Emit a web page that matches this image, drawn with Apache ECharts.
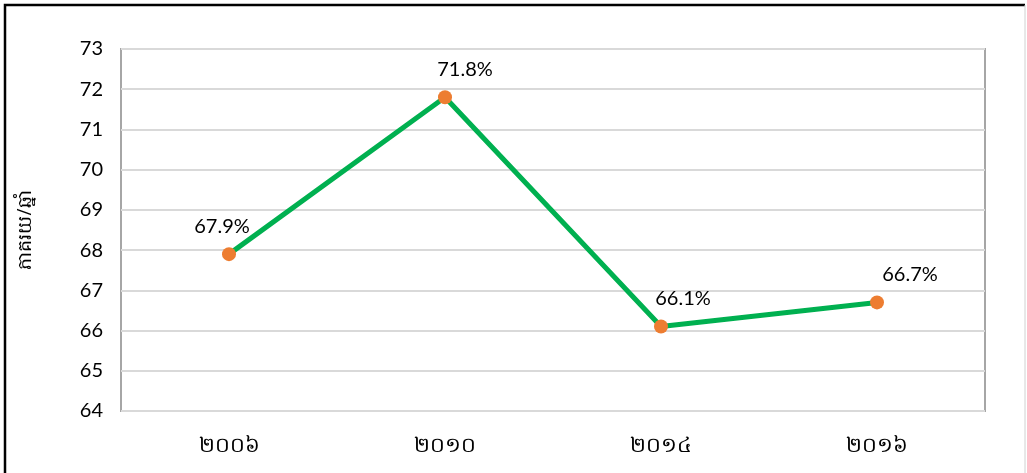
<!DOCTYPE html>
<html>
<head>
<meta charset="utf-8">
<script src="https://cdn.jsdelivr.net/npm/echarts@6/dist/echarts.min.js"></script>
<style>
  html, body { margin: 0; padding: 0; background: #fff; }
  #chart { width: 1027px; height: 473px; }
</style>
</head>
<body>
<div id="chart"></div>
<script>
// ឆ្នាំ (years, Khmer numerals)
var years = ["២០០៦", "២០១០", "២០១៤", "២០១៦"];
// percent values
var values = [67.9, 71.8, 66.1, 66.7];
var labelShift = [[-7, 0], [20, 0], [22, 0], [33, 0]];

var chart = echarts.init(document.getElementById("chart"));
var font = "Lato, 'Open Sans', 'Noto Sans', sans-serif";

var option = {
  backgroundColor: "#fff",
  animation: false,
  graphic: [
    {
      type: "polyline",
      shape: { points: [[5, 480], [5, 5], [1025, 5]] },
      style: { stroke: "#000", lineWidth: 2.5, fill: null }
    },
    {
      type: "line",
      shape: { x1: 1025, y1: 5, x2: 1025, y2: 480 },
      style: { stroke: "#d0d0d0", lineWidth: 1 }
    }
  ],
  grid: {
    left: 121,
    top: 49,
    width: 864,
    height: 362,
    show: true,
    borderColor: "#a6a6a6",
    borderWidth: 2
  },
  xAxis: {
    type: "category",
    data: years,
    boundaryGap: true,
    axisLine: { show: false },
    axisTick: { show: false },
    axisLabel: {
      fontSize: 21,
      color: "#000",
      margin: 25,
      fontFamily: "'Noto Sans', 'DejaVu Sans', sans-serif"
    }
  },
  yAxis: {
    type: "value",
    min: 64,
    max: 73,
    interval: 1,
    name: "ភាគរយ/ឆ្នាំ",
    nameLocation: "middle",
    nameRotate: 90,
    nameGap: 86,
    nameTextStyle: { fontSize: 19, color: "#000", fontFamily: "'Noto Sans', sans-serif" },
    axisLine: { show: false },
    axisTick: { show: false },
    axisLabel: { fontSize: 20, color: "#000", margin: 18, fontFamily: font },
    splitLine: { lineStyle: { color: "#d9d9d9", width: 2 } }
  },
  series: [
    {
      type: "line",
      data: values.map(function (v, i) {
        return { value: v, label: { offset: labelShift[i] } };
      }),
      lineStyle: { color: "#00b050", width: 5 },
      itemStyle: { color: "#ed7d31" },
      symbol: "circle",
      symbolSize: 14,
      label: {
        show: true,
        position: "top",
        distance: 11,
        fontSize: 20,
        color: "#000",
        fontFamily: font,
        formatter: function (p) { return p.value.toFixed(1) + "%"; }
      }
    }
  ]
};
chart.setOption(option);
</script>
</body>
</html>
